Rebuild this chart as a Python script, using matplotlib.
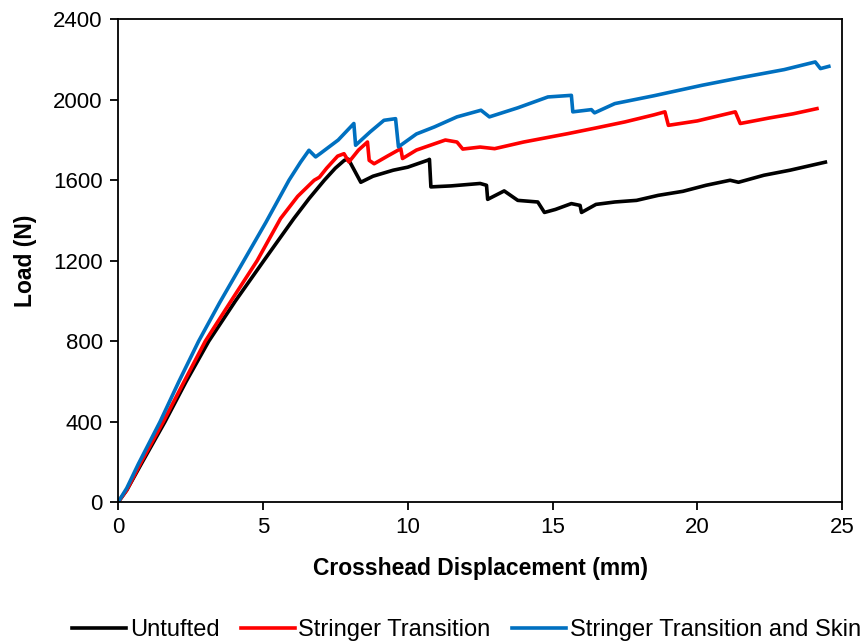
import matplotlib.pyplot as plt

plt.rcParams['font.family'] = ['Liberation Sans', 'DejaVu Sans']

# Untufted
x_untufted = [0, 0.3, 0.8, 1.62, 2.35, 3.13, 4.05, 5.03, 6.07, 6.6, 7.12, 7.5, 7.81, 7.95, 8.38,
              8.8, 9.5, 10.0, 10.7, 10.75, 10.8, 11.5, 12.5, 12.72, 12.76, 13.33, 13.8, 14.49,
              14.72, 15.1, 15.65, 15.95, 16.0, 16.5, 17.15, 17.9, 18.65, 19.5, 20.3, 21.13,
              21.42, 22.3, 23.2, 24.42]
y_untufted = [0, 60, 190, 400, 600, 800, 1000, 1200, 1410, 1510, 1600, 1660, 1699, 1705, 1590,
              1620, 1650, 1665, 1700, 1704, 1567, 1572, 1584, 1575, 1505, 1547, 1500, 1492,
              1440, 1455, 1484, 1475, 1440, 1480, 1492, 1500, 1525, 1545, 1575, 1600,
              1590, 1625, 1650, 1690]

# Stringer Transition
x_stringer = [0, 0.3, 0.8, 1.56, 2.3, 3.01, 3.9, 4.8, 5.61, 6.2, 6.77, 6.95, 7.2, 7.58, 7.8,
              7.97, 8.3, 8.61, 8.67, 8.84, 9.3, 9.76, 9.82, 10.3, 11.0, 11.3, 11.7, 11.9, 12.5,
              13.0, 14.0, 15.54, 16.5, 17.5, 18.5, 18.88, 19.0, 20.0, 21.31, 21.48, 22.5,
              23.3, 24.13]
y_stringer = [0, 60, 200, 400, 605, 800, 1000, 1200, 1410, 1520, 1600, 1615, 1660, 1720, 1732,
              1691, 1750, 1790, 1699, 1682, 1720, 1757, 1708, 1750, 1785, 1800, 1790, 1755, 1765,
              1757, 1790, 1832, 1860, 1890, 1925, 1940, 1873, 1895, 1940, 1882, 1910,
              1930, 1956]

# Stringer Transition and Skin
x_skin = [0, 0.3, 0.7, 1.45, 2.1, 2.78, 3.5, 4.34, 5.1, 5.9, 6.3, 6.59, 6.82, 7.0, 7.6, 8.14,
          8.2, 8.7, 9.18, 9.58, 9.68, 10.3, 10.92, 11.7, 12.53, 12.82, 13.8, 14.84, 15.65,
          15.7, 16.34, 16.45, 17.15, 18.5, 20.16, 21.5, 23.0, 24.07, 24.25, 24.54]
y_skin = [0, 70, 190, 400, 600, 800, 990, 1200, 1390, 1600, 1690, 1749, 1716, 1735, 1800, 1882,
          1774, 1840, 1898, 1906, 1766, 1830, 1865, 1915, 1948, 1915, 1960, 2014, 2022,
          1940, 1951, 1935, 1981, 2020, 2072, 2110, 2150, 2188, 2155, 2166]

fig = plt.figure(figsize=(8.62, 6.43), dpi=100)
ax = fig.add_axes([0.137, 0.219, 0.840, 0.751])

ax.plot(x_untufted, y_untufted, color='black', lw=2.6, label='Untufted')
ax.plot(x_stringer, y_stringer, color='#ff0000', lw=2.6, label='Stringer Transition')
ax.plot(x_skin, y_skin, color='#0070c0', lw=2.6, label='Stringer Transition and Skin')

ax.set_xlim(0, 25)
ax.set_ylim(0, 2400)
ax.set_xticks(range(0, 26, 5))
ax.set_yticks(range(0, 2401, 400))
ax.tick_params(labelsize=16, width=1.3, length=6, direction='out', pad=5)
for s in ax.spines.values():
    s.set_linewidth(1.3)

ax.set_xlabel('Crosshead Displacement (mm)', fontsize=16.5, fontweight='bold', labelpad=13)
ax.set_ylabel('Load (N)', fontsize=16.5, fontweight='bold', labelpad=12)

fig.legend(loc='lower center', bbox_to_anchor=(0.541, -0.03), ncol=3, frameon=False,
           fontsize=17, handlelength=2.3, handletextpad=0.15, columnspacing=0.9)

fig.savefig('out.png', dpi=100)
